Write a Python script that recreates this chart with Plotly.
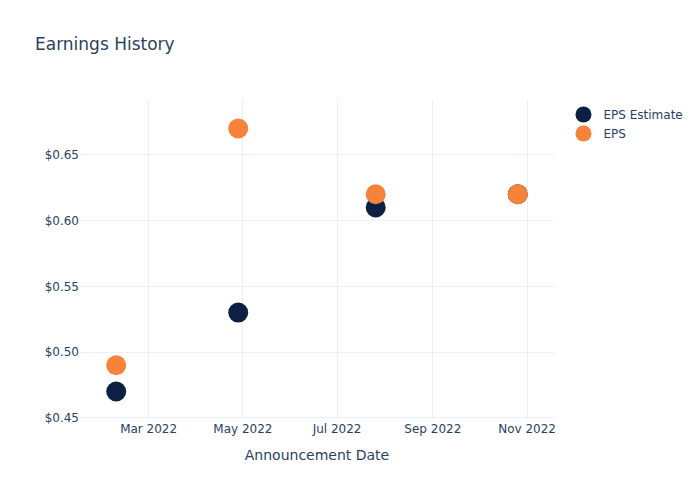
import plotly.graph_objects as go

dates = ["2022-02-08", "2022-04-28", "2022-07-26", "2022-10-26"]
eps_estimate = [0.47, 0.53, 0.61, 0.62]
eps_actual = [0.49, 0.67, 0.62, 0.62]

fig = go.Figure()
fig.add_trace(go.Scatter(x=dates, y=eps_estimate, mode="markers", name="EPS Estimate",
                         marker=dict(color="#0b2043", size=20)))
fig.add_trace(go.Scatter(x=dates, y=eps_actual, mode="markers", name="EPS",
                         marker=dict(color="#f7823a", size=20)))

fig.update_layout(
    template="plotly_white",
    width=700, height=500,
    font=dict(family="DejaVu Sans"),
    title=dict(text="Earnings History"),
    xaxis=dict(title=dict(text="Announcement Date")),
    yaxis=dict(tickprefix="$", tickformat=".2f"),
)
fig.write_html("out.html", config={"displayModeBar": False},
               post_script="document.body.style.margin='0px';")
